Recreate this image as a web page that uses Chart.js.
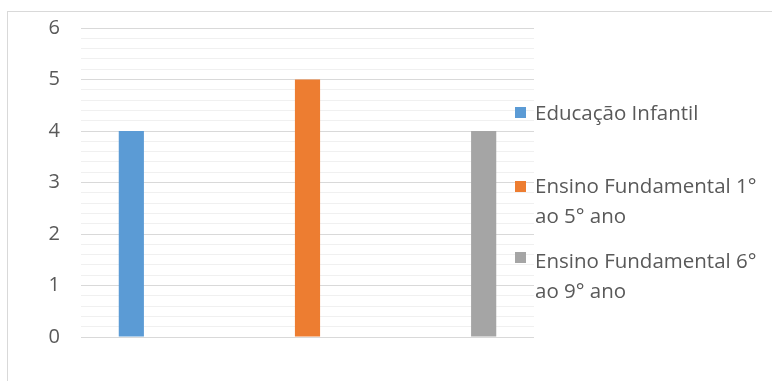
<!DOCTYPE html>
<html>
<head>
<meta charset="utf-8">
<script src="https://cdn.jsdelivr.net/npm/chart.js@4"></script>
<style>
  html, body { margin: 0; padding: 0; background: #fff; overflow: hidden; }
  #wrap { position: relative; width: 772px; height: 381px; }
  #frame { position: absolute; left: 7px; top: 11px; width: 800px; height: 400px; border: 1px solid #d9d9d9; }
  #c { position: absolute; left: 0; top: 0; }
  .leg { position: absolute; left: 535px; font-family: "Open Sans", sans-serif; font-size: 20.5px; line-height: 30px; color: #595959; white-space: nowrap; }
  .sq { position: absolute; left: 515px; width: 11px; height: 11px; }
</style>
</head>
<body>
<div id="wrap">
  <div id="frame"></div>
  <canvas id="c" width="772" height="381"></canvas>
  <div id="legend"></div>
</div>
<script>
// categories (no labels shown on the x axis)
var categories = ["", "", ""];
var seriesNames = ["Educação Infantil", "Ensino Fundamental 1°\nao 5° ano", "Ensino Fundamental 6°\nao 9° ano"];
var seriesColors = ['#5B9BD5', '#ED7D31', '#A5A5A5'];
// one bar per category, each in its own series
var educacaoInfantil = [4, null, null];
var fundamental1a5 = [null, 5, null];
var fundamental6a9 = [null, null, 4];
var yTicks = [0, 1, 2, 3, 4, 5, 6];

var seriesData = [educacaoInfantil, fundamental1a5, fundamental6a9];

function isMajor(v) {
    return Math.abs(v - Math.round(v)) < 1e-6;
}

var ctx = document.getElementById('c').getContext('2d');
var chart = new Chart(ctx, {
    type: 'bar',
    data: {
        labels: categories,
        datasets: seriesData.map(function (d, i) {
            return {
                label: seriesNames[i],
                data: d,
                backgroundColor: seriesColors[i],
                categoryPercentage: 0.5,
                barPercentage: 1.0
            };
        })
    },
    options: {
        responsive: false,
        animation: false,
        layout: { padding: { left: 0, top: 28, right: 238, bottom: 44 } },
        plugins: { legend: { display: false }, tooltip: { enabled: false } },
        scales: {
            x: { display: false, grid: { display: false } },
            y: {
                min: yTicks[0],
                max: yTicks[yTicks.length - 1],
                border: { display: false },
                grid: {
                    color: function (c) { return isMajor(c.tick.value) ? '#d9d9d9' : '#f0f0f0'; },
                    lineWidth: 1,
                    drawTicks: false
                },
                ticks: {
                    stepSize: 0.2,
                    autoSkip: false,
                    color: '#595959',
                    padding: 21,
                    font: { family: 'Open Sans', size: 20 },
                    callback: function (v) { return isMajor(v) ? String(Math.round(v)) : ''; }
                },
                afterFit: function (s) {
                    s.width = 81;
                    // tick padding would otherwise push the plot top down
                    s.paddingTop = 0;
                    s.paddingBottom = 0;
                }
            }
        }
    }
});

// legend on the right, as html text
var legTops = [97, 170, 245];
var sqTops = [107, 181, 252];
var legend = document.getElementById('legend');
seriesNames.forEach(function (name, i) {
    var sq = document.createElement('div');
    sq.className = 'sq';
    sq.style.top = sqTops[i] + 'px';
    sq.style.background = seriesColors[i];
    legend.appendChild(sq);
    var t = document.createElement('div');
    t.className = 'leg';
    t.style.top = legTops[i] + 'px';
    t.innerHTML = name.split('\n').join('<br>');
    legend.appendChild(t);
});
</script>
</body>
</html>
